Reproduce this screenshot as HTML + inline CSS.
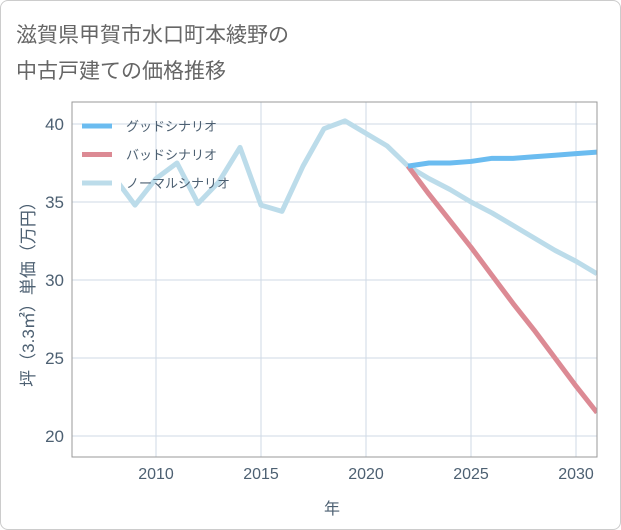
<!DOCTYPE html>
<html><head><meta charset="utf-8"><style>
body{margin:0;background:#fff;font-family:"Liberation Sans","Noto Sans CJK JP",sans-serif;}
.frame{position:absolute;left:0;top:0;width:619px;height:528px;border:1px solid #ccc;border-radius:8px;background:#fff;}
</style></head><body>
<div class="frame"></div>
<svg width="621" height="530" style="position:absolute;left:0;top:0">
<defs><clipPath id="cp"><rect x="121" y="102" width="476" height="355"/></clipPath></defs>
<text x="16" y="42" font-size="21" fill="#666" font-family="Liberation Sans,Noto Sans CJK JP,sans-serif">滋賀県甲賀市水口町本綾野の</text>
<text x="16" y="78" font-size="21" fill="#666" font-family="Liberation Sans,Noto Sans CJK JP,sans-serif">中古戸建ての価格推移</text>
<g id="grid"></g><g id="series" clip-path="url(#cp)"></g><g id="axes"></g>
<rect x="72" y="102" width="525" height="355" fill="none" stroke="#999"/>
<g id="legend"></g>
<text x="332" y="514" font-size="16" fill="#4d6072" text-anchor="middle">年</text>
<text transform="translate(34,290) rotate(-90)" font-size="17" fill="#4d6072" text-anchor="middle">坪（3.3㎡）単価（万円）</text>
</svg>
<script>
const years=[2008,2009,2010,2011,2012,2013,2014,2015,2016,2017,2018,2019,2020,2021,2022,2023,2024,2025,2026,2027,2028,2029,2030,2031];
const normal=[36.6,34.8,36.5,37.5,34.9,36.3,38.5,34.8,34.4,37.3,39.7,40.2,39.4,38.6,37.3,36.5,35.8,35.0,34.3,33.5,32.7,31.9,31.2,30.4];
const goodYears=[2022,2023,2024,2025,2026,2027,2028,2029,2030,2031];
const good=[37.3,37.5,37.5,37.6,37.8,37.8,37.9,38.0,38.1,38.2];
const bad=[37.3,35.5,33.8,32.1,30.3,28.5,26.8,25.0,23.2,21.5];
const xTicks=[2010,2015,2020,2025,2030];
const yTicks=[20,25,30,35,40];
const NS='http://www.w3.org/2000/svg';
const X=v=>72+(v-2006)*21;
const Y=v=>436-(v-20)*15.6;
function mk(t,a,p){const e=document.createElementNS(NS,t);for(const k in a)e.setAttribute(k,a[k]);p.appendChild(e);return e;}
const grid=document.getElementById('grid'),axes=document.getElementById('axes'),ser=document.getElementById('series'),leg=document.getElementById('legend');
xTicks.forEach(t=>{const l=mk('line',{x1:X(t),x2:X(t),y1:102,y2:457,stroke:'#cfdae5'},grid);


const tx=mk('text',{x:X(t),y:479,'font-size':16,fill:'#4d6072','text-anchor':'middle'},axes);tx.textContent=t;

});
yTicks.forEach(t=>{const l=mk('line',{x1:72,x2:597,y1:Y(t),y2:Y(t),stroke:'#cfdae5'},grid);


const tx=mk('text',{x:64,y:Y(t)+6,'font-size':17,fill:'#4d6072','text-anchor':'end'},axes);tx.textContent=t;

});
function line(xs,ys,c,n){const p=mk('polyline',{points:xs.map((x,i)=>X(x)+','+Y(ys[i])).join(' '),fill:'none',stroke:c,'stroke-width':5,'stroke-linejoin':'round'},ser);

}
line(years,normal,'#bcdcea','normal-scenario-line');
line(goodYears,bad,'#dc8a94','bad-scenario-line');
line(goodYears,good,'#6bbcf0','good-scenario-line');
[['グッドシナリオ','#6bbcf0'],['バッドシナリオ','#dc8a94'],['ノーマルシナリオ','#bcdcea']].forEach((d,i)=>{const y=126+i*28.5;
const g=mk('g',{},leg);


mk('line',{x1:82,x2:112,y1:y,y2:y,stroke:d[1],'stroke-width':5},g);
const t=mk('text',{x:126,y:y+5,'font-size':13,fill:'#4d6072'},g);t.textContent=d[0];});
</script>
</body></html>
